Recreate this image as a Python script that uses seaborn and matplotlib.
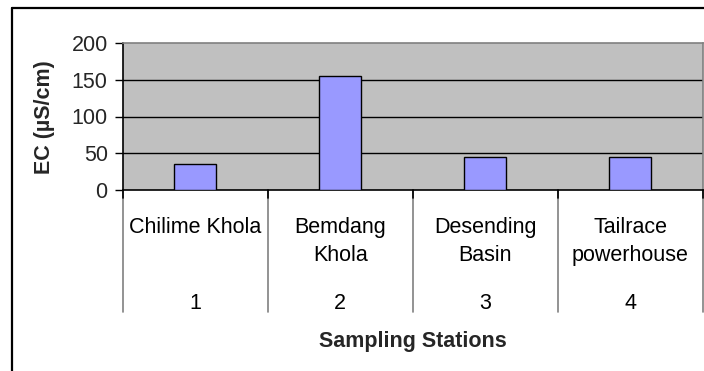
import matplotlib
matplotlib.use("Agg")
import matplotlib.pyplot as plt
import seaborn as sns
import pandas as pd
from matplotlib.lines import Line2D

# Data
station_names = ["Chilime Khola", "Bemdang\nKhola", "Desending\nBasin", "Tailrace\npowerhouse"]
station_numbers = ["1", "2", "3", "4"]
ec_values = [35, 155, 45, 45]
y_ticks = [0, 50, 100, 150, 200]

df = pd.DataFrame({"station": station_numbers, "ec": ec_values})

sns.set_theme(style="white")
plt.rcParams["font.family"] = ["Liberation Sans", "DejaVu Sans"]

W, H = 704, 371
fig = plt.figure(figsize=(W / 100, H / 100), dpi=100)
fig.patch.set_facecolor("white")

# plot area in pixel terms
left_px, right_px, top_px, bottom_px = 123, 702.5, 43, 190
ax = fig.add_axes([left_px / W, 1 - bottom_px / H,
                   (right_px - left_px) / W, (bottom_px - top_px) / H])
ax.set_facecolor("#C0C0C0")

sns.barplot(data=df, x="station", y="ec", color="#9999FF", saturation=1,
            edgecolor="black", linewidth=1.0, width=0.29, ax=ax, zorder=3)

ax.set_ylim(0, 200)
ax.set_xlim(-0.5, len(ec_values) - 0.5)
ax.set_yticks(y_ticks)
ax.set_yticklabels([str(t) for t in y_ticks], fontsize=15.5)
for t in y_ticks[1:-1]:
    ax.axhline(t, color="black", linewidth=1.0, zorder=1)

ax.set_xticks([])
ax.set_xlabel("")
ax.set_ylabel("")
ax.tick_params(axis="y", direction="out", length=6, width=1, color="black",
               pad=5, left=True)

for side in ["top", "right"]:
    ax.spines[side].set_color("#808080")
    ax.spines[side].set_linewidth(1.2)
for side in ["left", "bottom"]:
    ax.spines[side].set_color("black")
    ax.spines[side].set_linewidth(1.2)
    ax.spines[side].set_visible(True)

# category separators below the axis
axh = bottom_px - top_px
def yax(px):
    return (bottom_px - px) / axh

trans = ax.get_xaxis_transform()
for k in range(len(ec_values) + 1):
    xs = k - 0.5
    ax.plot([xs, xs], [0, yax(312)], transform=trans, color="#808080",
            linewidth=1.2, clip_on=False, zorder=2)
    ax.plot([xs, xs], [0, yax(198)], transform=trans, color="black",
            linewidth=1.2, clip_on=False, zorder=3)

# category names and numbers
for i, (name, num) in enumerate(zip(station_names, station_numbers)):
    for j, line in enumerate(name.split("\n")):
        ax.text(i, yax(233 + 28 * j), line, transform=trans, ha="center",
                va="baseline", fontsize=15.5, color="black")
    ax.text(i, yax(308.5), num, transform=trans, ha="center",
            va="baseline", fontsize=15.5, color="black")

fig.text((left_px + right_px) / 2 / W, 1 - 346.5 / H, "Sampling Stations",
         ha="center", va="baseline", fontsize=15.5, fontweight="bold")
fig.text(44.5 / W, 1 - 117.5 / H, "EC (µS/cm)", rotation=90,
         ha="center", va="center", fontsize=15.5, fontweight="bold")

# outer chart frame: left and top edges (the rest runs past the canvas)
fx0, fy0 = 11.5 / W, 1 - 7.5 / H
fig.lines.append(Line2D([fx0, fx0], [0, fy0], transform=fig.transFigure,
                        color="black", linewidth=1.6))
fig.lines.append(Line2D([fx0, 1], [fy0, fy0], transform=fig.transFigure,
                        color="black", linewidth=1.6))

fig.savefig("out.png", dpi=100)
